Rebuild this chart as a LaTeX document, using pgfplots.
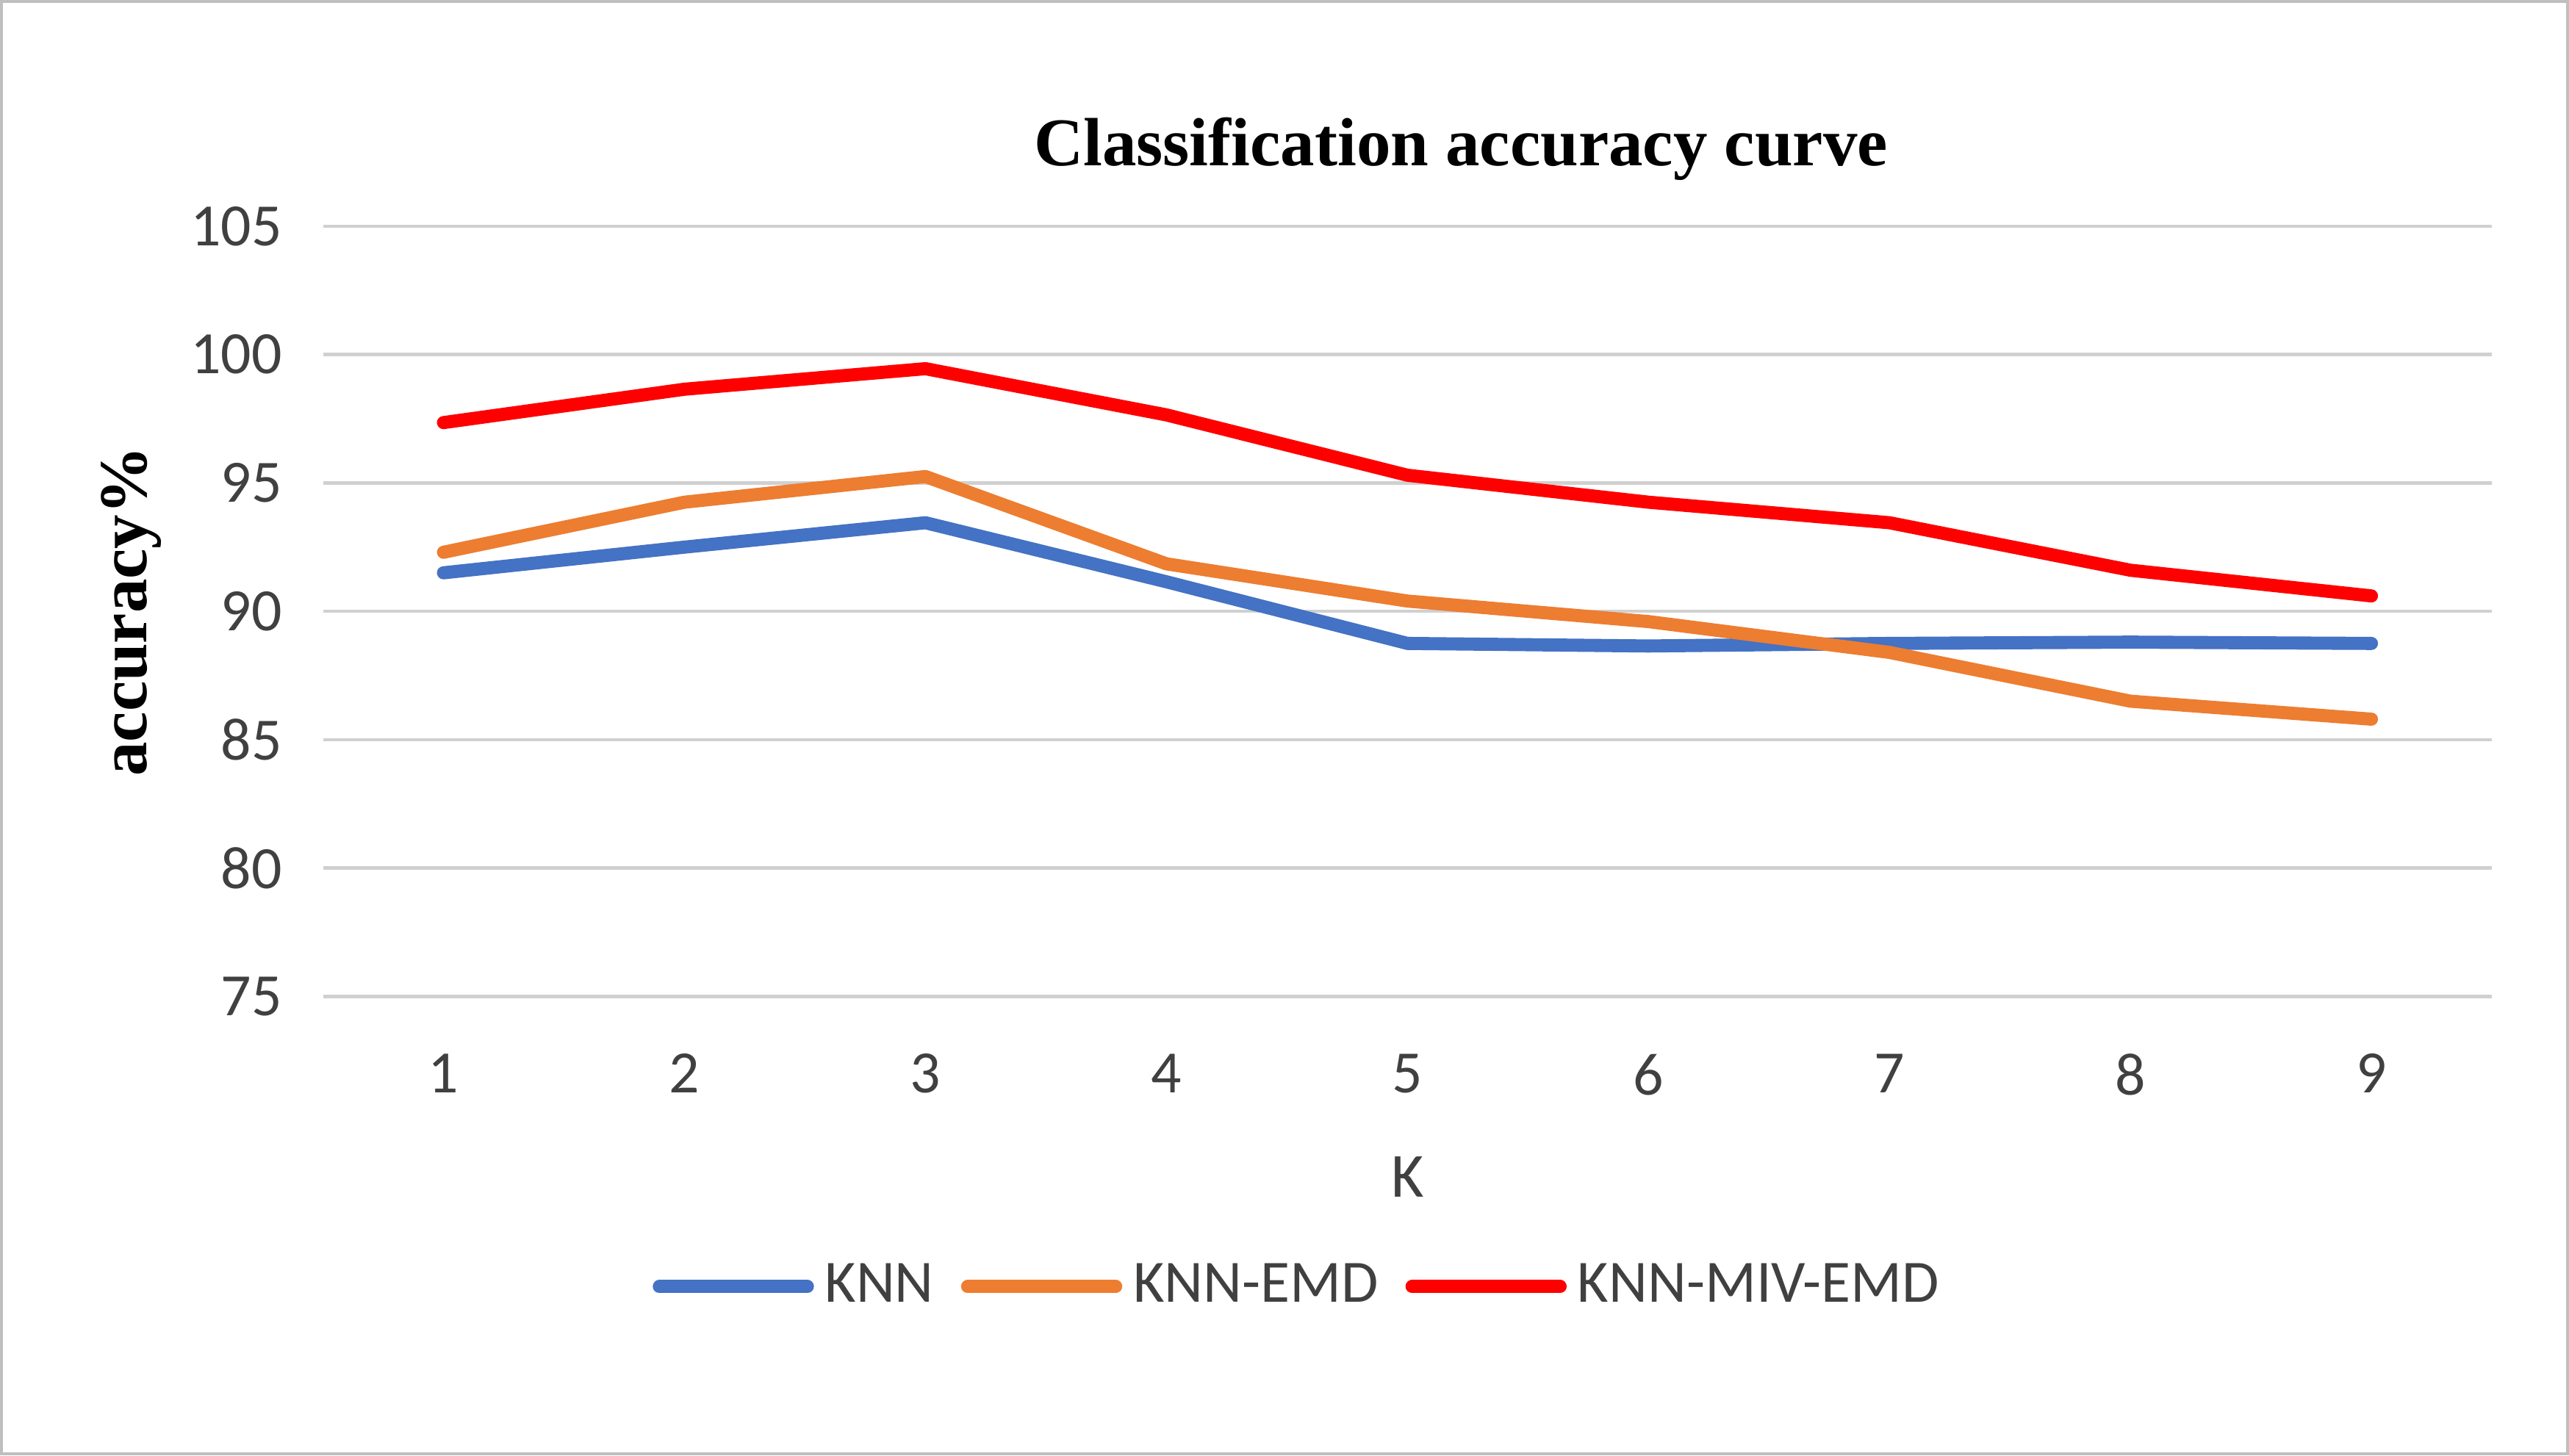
\documentclass[border=0pt]{standalone}
\usepackage{pgfplots}
\pgfplotsset{compat=1.18}
\usepackage{fontspec}
\setmainfont{Carlito}
\newfontfamily\tnr{Liberation Serif}
\definecolor{cblue}{HTML}{4472C4}
\definecolor{corange}{HTML}{ED7D31}
\definecolor{cred}{HTML}{FF0000}
\definecolor{cgrid}{HTML}{D0D0D0}
\definecolor{ctext}{HTML}{404040}
\begin{document}
\begin{tikzpicture}
\draw[color=black!25, line width=0.6pt] (0.3pt,-0.3pt) rectangle (469.8pt,-266.1pt);
\begin{axis}[
 at={(59.1pt,-182.4pt)}, anchor=south west,
 scale only axis, width=396.9pt, height=141pt,
 xmin=0.5, xmax=9.5, ymin=75, ymax=105,
 xtick={1,...,9}, ytick={75,80,...,105},
 axis line style={draw=none},
 major tick length=0pt,
 no markers,
 ymajorgrids, grid style={cgrid, line width=0.6pt},
 tick label style={font=\fontsize{11}{13}\selectfont, text=ctext},
 /pgf/number format/assume math mode=true,
 xticklabel style={yshift=-7pt},
 yticklabel style={xshift=-4pt},
 title={Classification accuracy curve},
 title style={font=\tnr\bfseries\fontsize{12.5}{15}\selectfont, at={(axis description cs:0.5246,1)}, anchor=center, yshift=8.1pt},
 xlabel={K},
 xlabel style={font=\fontsize{11.5}{13}\selectfont, text=ctext, at={(axis description cs:0.5,0)}, anchor=center, yshift=-33pt},
 ylabel={accuracy\%},
 ylabel style={font=\tnr\bfseries\fontsize{12.5}{15}\selectfont, at={(axis description cs:-0.0884,0.5)}, anchor=center},
 legend style={at={(axis description cs:0.451,0)}, anchor=center, yshift=-53.1pt, draw=none, fill=none, legend columns=3, font=\fontsize{11}{13}\selectfont, text=ctext, /tikz/every even column/.append style={column sep=3pt}},
 legend image code/.code={\draw[#1, line width=2.4pt, line cap=round] (0pt,0pt) -- (23.5pt,0pt); \path (-1.2pt,0pt) -- (25.9pt,0pt);},
 every axis plot/.append style={line width=2.4pt, line cap=round, line join=round},
]
\addplot[cblue] coordinates {(1,91.5) (2,92.5) (3,93.45) (4,91.15) (5,88.75) (6,88.65) (7,88.75) (8,88.8) (9,88.75)};
\addlegendentry{KNN}
\addplot[corange] coordinates {(1,92.3) (2,94.25) (3,95.25) (4,91.85) (5,90.4) (6,89.6) (7,88.4) (8,86.5) (9,85.8)};
\addlegendentry{KNN-EMD}
\addplot[cred] coordinates {(1,97.35) (2,98.65) (3,99.45) (4,97.65) (5,95.3) (6,94.25) (7,93.45) (8,91.6) (9,90.6)};
\addlegendentry{KNN-MIV-EMD}
\end{axis}
\end{tikzpicture}
\end{document}
